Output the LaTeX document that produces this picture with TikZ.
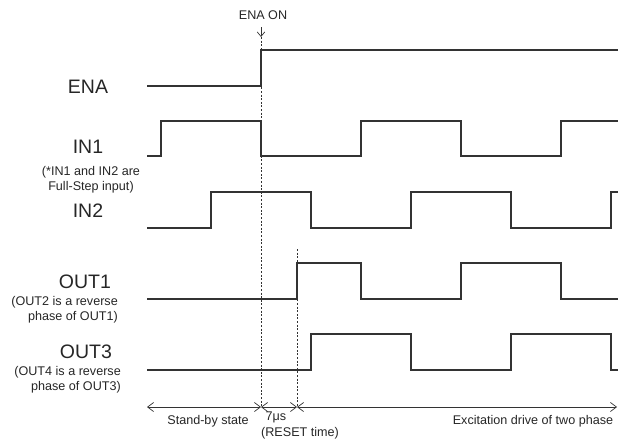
\documentclass[tikz,border=0pt]{standalone}
\usepackage{fontspec}
\setmainfont{Liberation Sans}
\usetikzlibrary{arrows.meta}

\tikzset{
  sig/.style={line width=1.25pt, draw=black!80},
  guide/.style={line width=0.9pt, draw=black!80, dash pattern=on 2pt off 1.6pt},
  span/.style={line width=0.7pt, draw=black!80,
    {Straight Barb[length=6pt,width=9pt]}-{Straight Barb[length=6pt,width=9pt]}},
  biglabel/.style={font=\fontsize{19.5}{22}\selectfont, text=black!85, inner sep=0pt},
  note/.style={font=\fontsize{12.6}{15}\selectfont, text=black!85, inner sep=0pt, align=center},
}

\begin{document}
\begin{tikzpicture}[x=1pt, y=-1pt]

    \useasboundingbox (0,0) rectangle (618,447);

    % signal names
    \node[biglabel] (ena) at (88, 87) {ENA};
    \node[biglabel] (in1) at (88, 147) {IN1};
    \node[note] (in1note) at (91, 179.5) {(*IN1 and IN2 are\\Full-Step input)};
    \node[biglabel] (in2) at (88, 211) {IN2};
    \node[biglabel] (out1) at (85, 282) {OUT1};
    \node[note, align=right, anchor=east] (out1note) at (118, 309.5) {(OUT2 is a reverse\\phase of OUT1)};
    \node[biglabel] (out3) at (86, 352) {OUT3};
    \node[note, align=right, anchor=east] (out3note) at (121, 379.5) {(OUT4 is a reverse\\phase of OUT3)};

    % waveforms
    \draw[sig] (147,86) -| (261,50) -- (618,50); % ENA
    \draw[sig] (147,156) -| (161,121) -| (261,156) -| (361,121) -| (461,156) -| (561,121) -- (618,121); % IN1
    \draw[sig] (147,228) -| (211,192) -| (311,228) -| (411,192) -| (511,228) -| (611,192) -- (618,192); % IN2
    \draw[sig] (147,299) -| (297,263) -| (361,299) -| (461,263) -| (561,299) -- (618,299); % OUT1
    \draw[sig] (147,370) -| (311,334) -| (411,370) -| (511,334) -| (611,370) -- (618,370); % OUT3

    % ENA ON marker
    \node[note] (enaon) at (263, 15) {ENA ON};
    \coordinate (arrTop) at (261, 27);
    \coordinate (enaTop) at (261, 37);
    \draw[line width=0.7pt, draw=black!80, -{Straight Barb[length=4.5pt,width=7.5pt]}] (arrTop) -- (enaTop);

    % timing guides
    \coordinate (enaBot) at (261, 407);
    \coordinate (rstTop) at (297, 249);
    \coordinate (rstBot) at (297, 407);
    \draw[guide] (enaTop) -- (enaBot);
    \draw[guide] (rstTop) -- (rstBot);

    % time spans
    \coordinate (sbL) at (147, 407);
    \coordinate (exR) at (617, 407);
    \draw[span] (sbL) -- (enaBot); % stand-by
    \draw[span] (enaBot) -- (rstBot); % reset
    \draw[span] (rstBot) -- (exR); % excitation

    \node[note] (standby) at (208, 421) {Stand-by state};
    \node[note] (delay) at (276, 417) {7μs};
    \node[note] (reset) at (300, 433) {(RESET time)};
    \node[note] (excite) at (533, 421) {Excitation drive of two phase};
\end{tikzpicture}
\end{document}
